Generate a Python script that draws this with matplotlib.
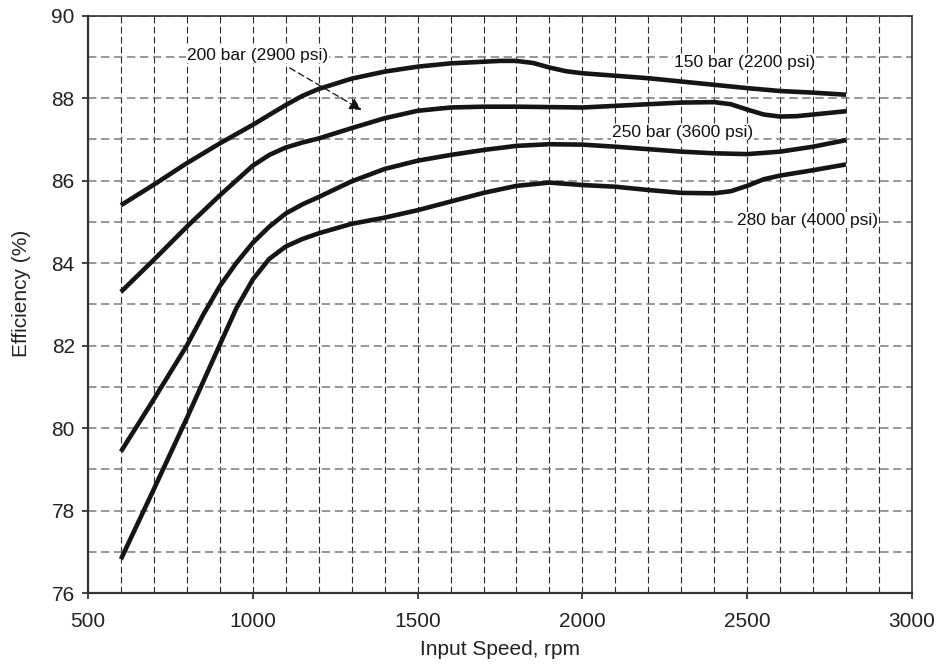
import matplotlib
matplotlib.use("Agg")
import matplotlib.pyplot as plt
from matplotlib.ticker import MultipleLocator

plt.rcParams['font.family'] = ['Liberation Sans', 'DejaVu Sans']

# Input speed (rpm) and efficiency (%) for each system pressure
speed_150 = [600, 700, 800, 900, 1000, 1100, 1150, 1200, 1300, 1400, 1500, 1600, 1700, 1750, 1800,
             1850, 1900, 1950, 2000, 2100, 2200, 2300, 2400, 2500, 2600, 2700, 2800]
eff_150 = [85.4, 85.9, 86.42, 86.9, 87.35, 87.83, 88.05, 88.22, 88.47, 88.64, 88.76, 88.84, 88.88,
           88.9, 88.9, 88.85, 88.74, 88.65, 88.6, 88.54, 88.48, 88.4, 88.32, 88.24, 88.17, 88.13, 88.08]

speed_200 = [600, 700, 800, 900, 1000, 1050, 1100, 1150, 1200, 1300, 1400, 1500, 1600, 1700, 1800,
             1900, 2000, 2100, 2200, 2300, 2400, 2450, 2500, 2550, 2600, 2650, 2700, 2800]
eff_200 = [83.3, 84.08, 84.88, 85.64, 86.36, 86.62, 86.8, 86.92, 87.02, 87.27, 87.51, 87.69, 87.77,
           87.79, 87.79, 87.78, 87.77, 87.81, 87.85, 87.89, 87.9, 87.85, 87.72, 87.6, 87.55, 87.56,
           87.6, 87.68]

speed_250 = [600, 700, 800, 850, 900, 950, 1000, 1050, 1100, 1150, 1200, 1300, 1400, 1500, 1600,
             1700, 1800, 1900, 2000, 2100, 2200, 2300, 2400, 2500, 2600, 2700, 2800]
eff_250 = [79.43, 80.7, 82.0, 82.75, 83.44, 84.0, 84.49, 84.88, 85.2, 85.42, 85.6, 85.98, 86.28,
           86.48, 86.62, 86.74, 86.84, 86.88, 86.87, 86.82, 86.76, 86.7, 86.66, 86.64, 86.7, 86.82,
           86.98]

speed_280 = [600, 700, 800, 900, 950, 1000, 1050, 1100, 1150, 1200, 1300, 1400, 1500, 1600, 1700,
             1800, 1900, 2000, 2100, 2200, 2300, 2400, 2450, 2500, 2550, 2600, 2700, 2800]
eff_280 = [76.82, 78.52, 80.24, 82.02, 82.9, 83.6, 84.1, 84.4, 84.58, 84.72, 84.95, 85.1, 85.28,
           85.49, 85.7, 85.87, 85.95, 85.89, 85.85, 85.77, 85.7, 85.69, 85.74, 85.87, 86.03, 86.12,
           86.25, 86.39]

series = [
    (speed_150, eff_150),
    (speed_200, eff_200),
    (speed_250, eff_250),
    (speed_280, eff_280),
]

labels = ["150 bar (2200 psi)", "200 bar (2900 psi)", "250 bar (3600 psi)", "280 bar (4000 psi)"]
label_pos = [(2491, 88.87), (1015, 89.04), (2303, 87.17), (2682, 85.04)]
arrow_tip = (1330, 87.71)
arrow_tail = (1112, 88.73)

x_ticks = [500, 1000, 1500, 2000, 2500, 3000]
y_ticks = [76, 78, 80, 82, 84, 86, 88, 90]

fig = plt.figure(figsize=(9.5, 6.69), dpi=100)
ax = fig.add_axes([0.0926, 0.1136, 0.8674, 0.8632])

ax.set_xlim(500, 3000)
ax.set_ylim(76, 90)
ax.set_xticks(x_ticks)
ax.set_yticks(y_ticks)
ax.xaxis.set_minor_locator(MultipleLocator(100))
ax.yaxis.set_minor_locator(MultipleLocator(1))
ax.tick_params(which='minor', length=0)
ax.tick_params(which='major', length=4.5, width=1.2, direction='out', labelsize=15,
               colors='#222222')
ax.tick_params(axis='x', which='major', pad=9)
ax.tick_params(axis='y', which='major', pad=5)

# vertical grid: dark, thin dashes; horizontal grid: lighter grey
ax.xaxis.grid(True, which='both', linestyle=(0, (6, 3)), color='#2a2a2a', linewidth=0.8)
ax.yaxis.grid(True, which='both', linestyle=(0, (5.5, 3)), color='#7a7a7a', linewidth=1.1)
ax.set_axisbelow(True)
for s in ax.spines.values():
    s.set_color('#333333')
    s.set_linewidth(1.2)
ax.spines['left'].set_linewidth(1.6)
ax.spines['bottom'].set_linewidth(1.6)

for sx, sy in series:
    ax.plot(sx, sy, color='#151515', linewidth=3.3, solid_capstyle='butt', solid_joinstyle='round')

for text, (lx, ly) in zip(labels, label_pos):
    ax.text(lx, ly, text, fontsize=12.5, ha='center', va='center', color='#111111',
            bbox=dict(facecolor='white', edgecolor='none', pad=0.5))

ax.annotate("", xy=arrow_tip, xytext=arrow_tail,
            arrowprops=dict(arrowstyle='-|>', linestyle=(0, (5, 3)), linewidth=0.9,
                            color='#111111', mutation_scale=18, shrinkA=0, shrinkB=0))

ax.set_xlabel("Input Speed, rpm", fontsize=15, color='#222222', labelpad=7)
ax.set_ylabel("Efficiency (%)", fontsize=15, color='#222222')
ax.yaxis.set_label_coords(-0.069, 0.519)

fig.savefig("out.png", dpi=100, facecolor='white')
